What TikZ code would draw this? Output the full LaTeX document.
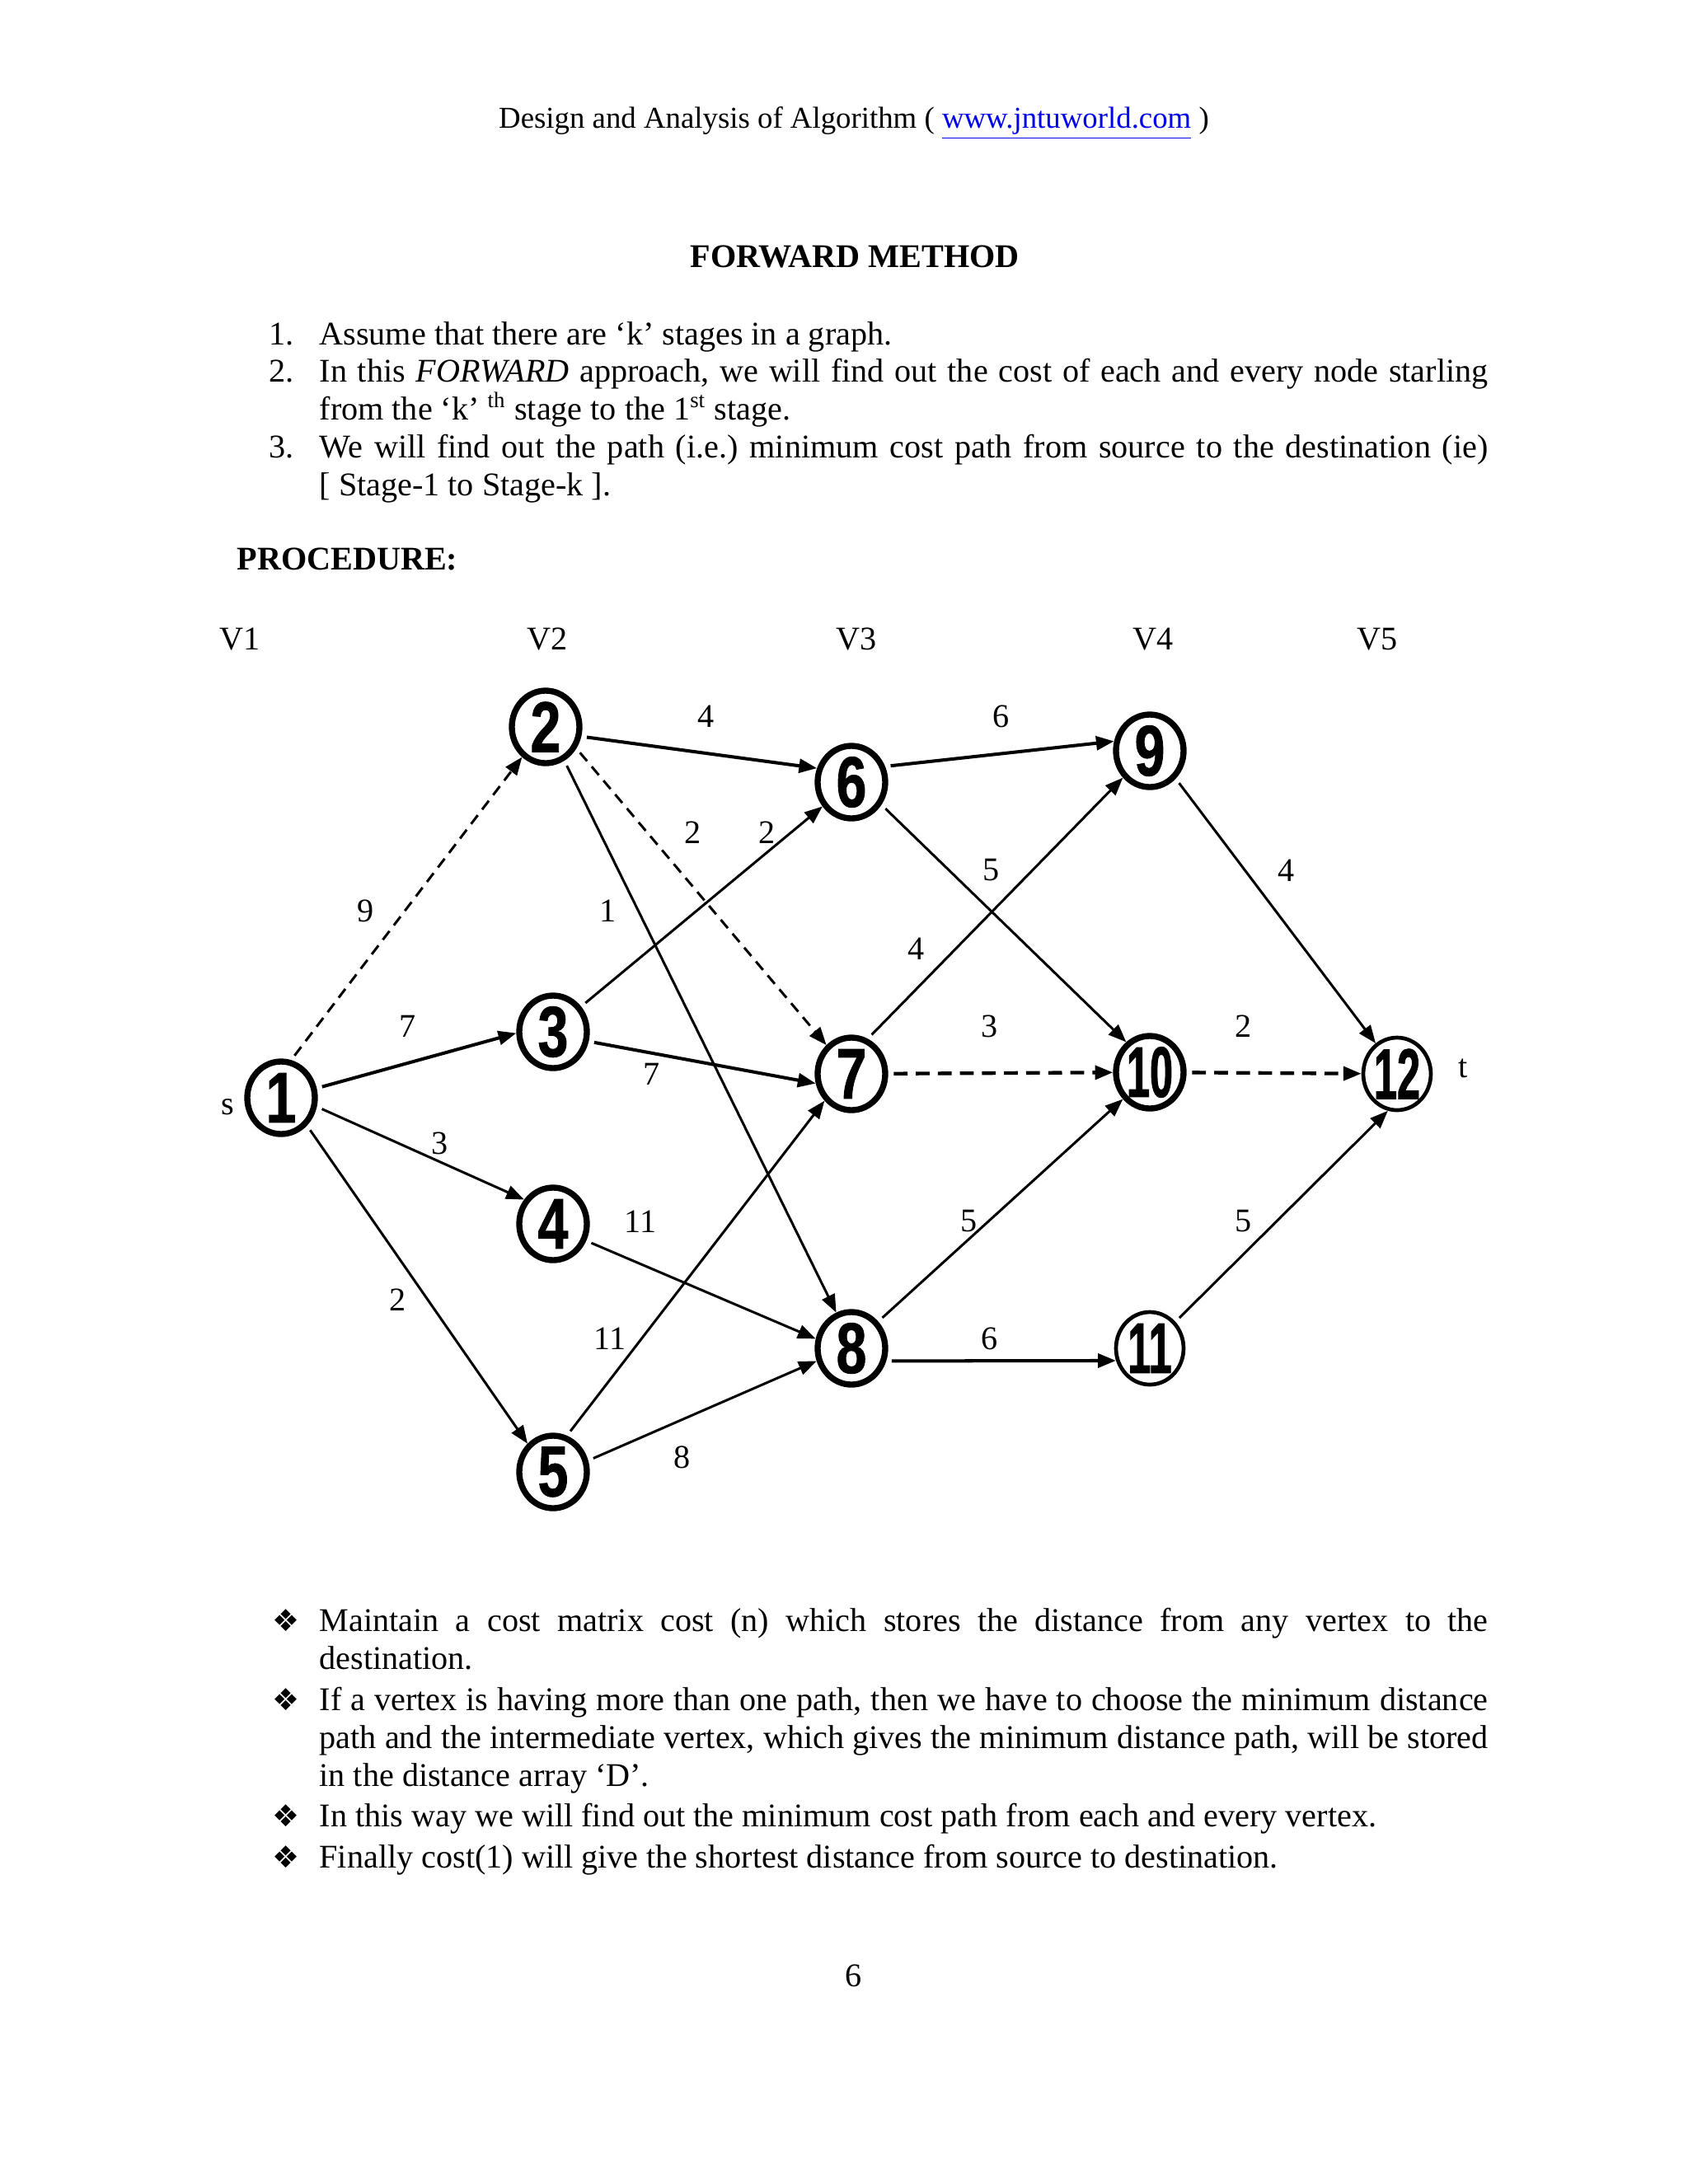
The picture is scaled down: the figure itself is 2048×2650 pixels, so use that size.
\documentclass[tikz,border=0pt]{standalone}
\usepackage{fontspec}
\setmainfont{Liberation Serif}
\newfontfamily\numfont[FakeStretch=0.76,FakeBold=1]{Liberation Sans}
\newfontfamily\numnarrow[FakeStretch=0.58,FakeBold=1]{Liberation Sans}
\newfontfamily\symfont{DejaVu Sans}
\usetikzlibrary{shapes.geometric,arrows.meta}
\definecolor{linkblue}{RGB}{0,0,238}
\frenchspacing

\begin{document}
\begin{tikzpicture}[x=0.29883pt,y=-0.29883pt,
    >={Triangle[length=6.5pt,width=5pt]},
    txt/.style={anchor=base west,inner sep=0pt,font=\fontsize{12}{13.8}\selectfont},
    para/.style={txt,text width=423.7pt,align=justify},
    vertex/.style={ellipse,draw,line width=2.2pt,minimum width=24.5pt,minimum height=26.3pt,inner sep=0pt,
        font=\numfont\bfseries\fontsize{26}{26}\selectfont},
    vertexnarrow/.style={vertex,font=\numnarrow\bfseries\fontsize{26}{26}\selectfont},
    vertexthin/.style={vertexnarrow,line width=1.4pt},
    cost/.style={inner sep=0pt,font=\fontsize{12}{12}\selectfont},
    cedge/.style={->,line width=0.9pt,shorten <=2pt},
    dedge/.style={cedge,dash pattern=on 4pt off 2.6pt},
    dedgebold/.style={cedge,line width=1.3pt,dash pattern=on 5pt off 3pt}]
    \useasboundingbox (0,0) rectangle (2048,2650);

    % Page text
    \node[txt,anchor=base,font=\fontsize{11}{13}\selectfont] (header) at (1036,155) {Design and Analysis of Algorithm ( \textcolor{linkblue}{\underline{www.jntuworld.com}} )};
    \node[txt,anchor=base] (title) at (1037,324) {\textbf{FORWARD METHOD}};

    \node[txt] (num1) at (326,418) {1.};
    \node[para] (item1) at (387,418) {Assume that there are ‘k’ stages in a graph.};
    \node[txt] (num2) at (326,463) {2.};
    \node[para] (item2) at (387,463) {In this \textit{FORWARD} approach, we will find out the cost of each and every node starling\linebreak from the ‘k’ \textsuperscript{th} stage to the 1\textsuperscript{st} stage.};
    \node[txt] (num3) at (326,555) {3.};
    \node[para] (item3) at (387,555) {We will find out the path (i.e.) minimum cost path from source to the destination (ie)\linebreak {[} Stage-1 to Stage-k ].};

    \node[txt] (procedure) at (287,691) {\textbf{PROCEDURE:}};

    % Stage labels
    \node[cost,anchor=base] (v1) at (291,788) {V1};
    \node[cost,anchor=base] (v2) at (664,788) {V2};
    \node[cost,anchor=base] (v3) at (1039,788) {V3};
    \node[cost,anchor=base] (v4) at (1399,788) {V4};
    \node[cost,anchor=base] (v5) at (1671,788) {V5};

    % Nodes
    \node[vertex] (n1) at (341,1332) {1};
    \node[vertex] (n2) at (662,882) {2};
    \node[vertex] (n3) at (671,1252) {3};
    \node[vertex] (n4) at (671,1485) {4};
    \node[vertex] (n5) at (671,1786) {5};
    \node[vertex] (n6) at (1033,949) {6};
    \node[vertex] (n7) at (1033,1303) {7};
    \node[vertex] (n8) at (1033,1636) {8};
    \node[vertex] (n9) at (1395,911) {9};
    \node[vertexnarrow] (n10) at (1395,1301) {10};
    \node[vertexthin] (n11) at (1395,1636) {11};
    \node[vertexthin] (n12) at (1695,1303) {12};

    \node[cost] (s) at (276,1343) {s};
    \node[cost] (t) at (1775,1296) {t};

    % Edges
    \draw[dedge] (n1.75) -- (n2.232);
    \draw[cedge,line width=1.2pt] (n1.15) -- (n3.182);
    \draw[cedge] (n1.-14) -- (n4.140);
    \draw[cedge] (n1.-47) -- (n5.132);
    \draw[cedge,line width=1.2pt] (n2.-15) -- (n6.158);
    \draw[dedge] (n2.-35) -- (n7.131);
    \draw[cedge] (n2.-61) -- (n8.113);
    \draw[cedge] (n3.42) -- (n6.220);
    \draw[cedge,line width=1.2pt] (n3.-15) -- (n7.195);
    \draw[cedge] (n4.-27) -- (n8.165);
    \draw[cedge] (n5.69) -- (n7.225);
    \draw[cedge] (n5.18) -- (n8.200);
    \draw[cedge,line width=1.2pt] (n6.25) -- (n9.165);
    \draw[cedge] (n6.-37) -- (n10.128);
    \draw[cedge] (n7.65) -- (n9.225);
    \draw[dedgebold] (n7) -- (n10);
    \draw[cedge] (n8.45) -- (n10.225);
    \draw[cedge,line width=1.2pt] (n8.-20) -- (n11.200);
    \draw[cedge] (n9.-47) -- (n12.125);
    \draw[dedgebold] (n10) -- (n12);
    \draw[cedge] (n11.46) -- (n12.256);

    % Costs
    \node[cost] (c12) at (444,1105) {9};
    \node[cost] (c13) at (495,1245) {7};
    \node[cost] (c14) at (534,1387) {3};
    \node[cost] (c15) at (483,1577) {2};
    \node[cost] (c26) at (857,869) {4};
    \node[cost] (c27) at (841,1010) {2};
    \node[cost] (c28) at (738,1105) {1};
    \node[cost] (c36) at (931,1010) {2};
    \node[cost] (c37) at (791,1303) {7};
    \node[cost] (c48) at (777,1482) {11};
    \node[cost] (c57) at (740,1624) {11};
    \node[cost] (c58) at (828,1768) {8};
    \node[cost] (c69) at (1215,869) {6};
    \node[cost] (c610) at (1203,1056) {5};
    \node[cost] (c79) at (1112,1151) {4};
    \node[cost] (c710) at (1201,1245) {3};
    \node[cost] (c810) at (1176,1482) {5};
    \node[cost] (c811) at (1201,1624) {6};
    \node[cost] (c912) at (1561,1056) {4};
    \node[cost] (c1012) at (1509,1245) {2};
    \node[cost] (c1112) at (1509,1482) {5};

    % Notes
    \node[txt] (b1) at (330,1979) {\symfont\fontsize{11}{11}\selectfont ❖};
    \node[para] (note1) at (387,1979) {Maintain a cost matrix cost (n) which stores the distance from any vertex to the\linebreak destination.};
    \node[txt] (b2) at (330,2075) {\symfont\fontsize{11}{11}\selectfont ❖};
    \node[para] (note2) at (387,2075) {If a vertex is having more than one path, then we have to choose the minimum distance\linebreak path and the intermediate vertex, which gives the minimum distance path, will be stored\linebreak in the distance array ‘D’.};
    \node[txt] (b3) at (330,2216) {\symfont\fontsize{11}{11}\selectfont ❖};
    \node[para] (note3) at (387,2216) {In this way we will find out the minimum cost path from each and every vertex.};
    \node[txt] (b4) at (330,2266) {\symfont\fontsize{11}{11}\selectfont ❖};
    \node[para] (note4) at (387,2266) {Finally cost(1) will give the shortest distance from source to destination.};

    \node[txt,anchor=base] (pagenum) at (1036,2410) {6};
\end{tikzpicture}
\end{document}
